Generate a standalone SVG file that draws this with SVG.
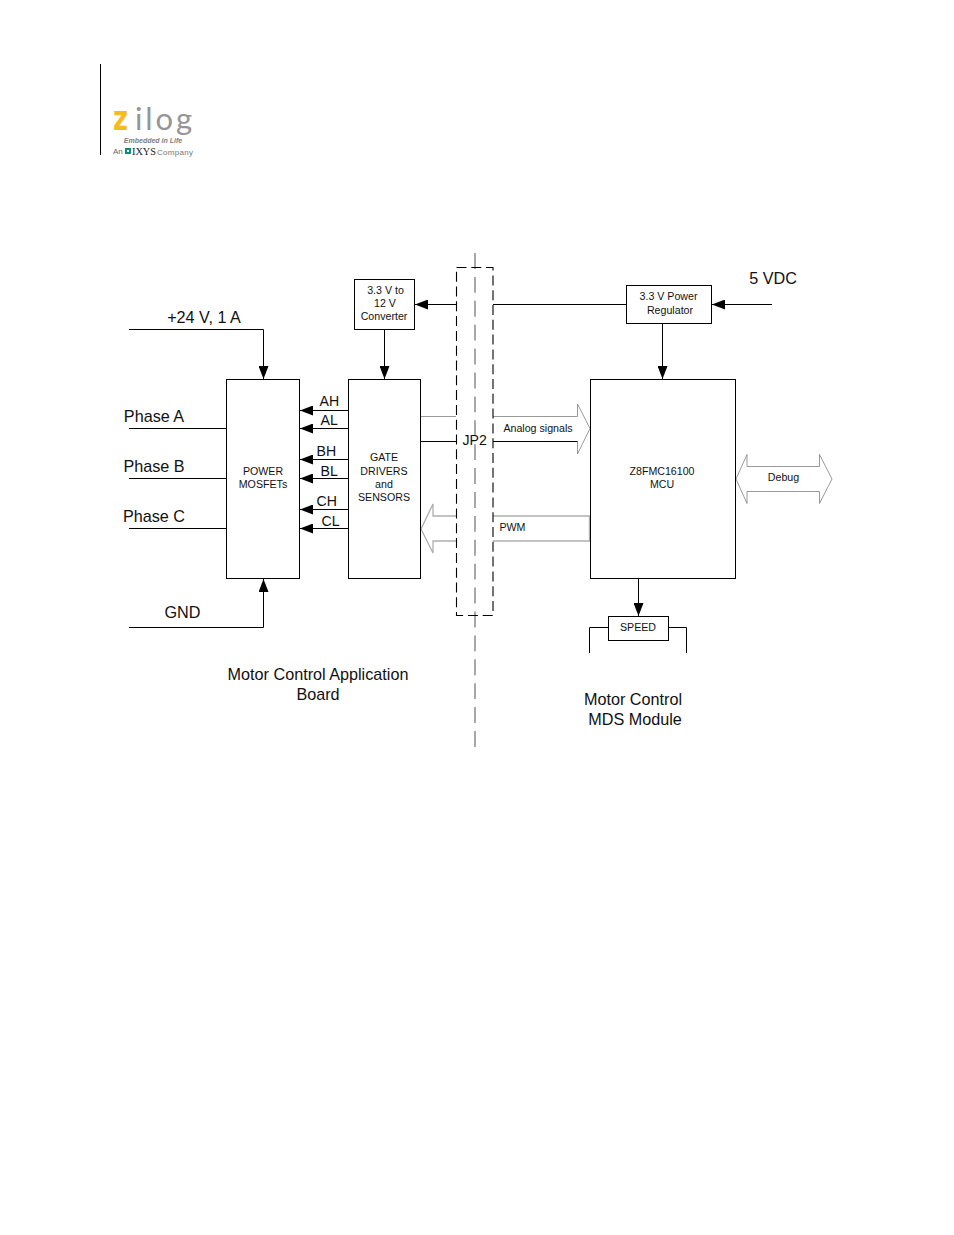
<svg xmlns="http://www.w3.org/2000/svg" width="954" height="1235" viewBox="0 0 954 1235">
<style>
text{font-family:"Liberation Sans",Arial,sans-serif;fill:#111}
.s{font-size:10.65px;text-anchor:middle}
.m{font-size:14.1px}
.l{font-size:16.2px;text-anchor:middle}
.b{fill:#fff;stroke:#000;stroke-width:1}
.w{fill:none;stroke:#000;stroke-width:1}
.g{fill:none;stroke:#aeaeae;stroke-width:1.3}
.t{fill:none;stroke:#808080;stroke-width:.8}
</style>
<defs>
<marker id="a" markerUnits="userSpaceOnUse" markerWidth="13" markerHeight="10" refX="13" refY="5" orient="auto"><path d="M0 0L13 5L0 10Z" fill="#000"/></marker>
</defs>
<rect width="954" height="1235" fill="#fff"/>
<g id="logo">
<path d="M100.500 64V155" stroke="#000" fill="none"/>
<text x="113" y="130" style="font-size:34px;font-weight:bold;fill:#f7bb1d;font-family:'DejaVu Sans',sans-serif" textLength="15" lengthAdjust="spacingAndGlyphs">z</text>
<text x="135" y="130" style="font-size:31px;fill:#959595;font-family:Lato,sans-serif" textLength="57" lengthAdjust="spacing">ilog</text>
<text x="153" y="143" style="font-size:7px;font-style:italic;font-weight:bold;fill:#808080;text-anchor:middle">Embedded in Life</text>
<text x="113" y="154" style="font-size:8px;fill:#666">An</text>
<rect x="125" y="148" width="6" height="6" fill="#0f8a80"/>
<path d="M127 150h2v2h-2z" fill="#fff"/>
<text x="132" y="155" style="font-size:10px;font-family:'Liberation Serif',serif;fill:#222" textLength="24" lengthAdjust="spacingAndGlyphs">IXYS</text>
<text x="157" y="155" style="font-size:8px;fill:#777" textLength="36" lengthAdjust="spacing">Company</text>
</g>
<g id="connectors">
<path class="w" d="M129 329.500H263.500V379" marker-end="url(#a)"/>
<path class="w" d="M129 627.500H263.500V579" marker-end="url(#a)"/>
<path class="w" d="M129 428.500H226M129 478.500H226M129 528.500H226"/>
<path class="w" d="M348 410.500H300" marker-end="url(#a)"/>
<path class="w" d="M348 428.500H300" marker-end="url(#a)"/>
<path class="w" d="M348 459.500H300" marker-end="url(#a)"/>
<path class="w" d="M348 478.500H300" marker-end="url(#a)"/>
<path class="w" d="M348 509.500H300" marker-end="url(#a)"/>
<path class="w" d="M348 528.500H300" marker-end="url(#a)"/>
<path class="w" d="M384.500 329V379" marker-end="url(#a)"/>
<path class="w" d="M456 304.500H415" marker-end="url(#a)"/>
<path class="w" d="M493 304.500H626"/>
<path class="w" d="M772 304.500H712" marker-end="url(#a)"/>
<path class="w" d="M662.500 323V379" marker-end="url(#a)"/>
<path class="w" d="M638.500 578V616" marker-end="url(#a)"/>
<path class="w" d="M608 627.500H589.500V653M668 627.500H686.500V653"/>
<path class="t" d="M421 416.500H456"/>
<path class="w" d="M421 441.500H456"/>
<path class="t" d="M493 416.500H577.500V404L590 428.500L577.500 454V441.500"/>
<path class="w" d="M493 441.500H577.500"/>
<path class="g" d="M456 516H433V504L421 529L433 553V541H456"/>
<path class="g" d="M493 516H589.500V541H493"/>
<path class="t" d="M736 479L747 454.500V466.500H819.500V454.500L832 479L819.500 503.500V491.500H747V503.500Z"/>
<path d="M475 253V747" fill="none" stroke="#a8a8a8" stroke-width="2" stroke-dasharray="15.900 8"/>
<rect x="456.500" y="267.500" width="36.500" height="348" fill="none" stroke="#000" stroke-width="1.100" stroke-dasharray="10 4.800"/>
</g>
<g id="power"><rect class="b" x="226.500" y="379.500" width="73" height="199"/><text class="s" x="263" y="475">POWER</text><text class="s" x="263" y="488">MOSFETs</text></g>
<g id="gate"><rect class="b" x="348.500" y="379.500" width="72" height="199"/><text class="s" x="384" y="461">GATE</text><text class="s" x="384" y="475">DRIVERS</text><text class="s" x="384" y="488">and</text><text class="s" x="384" y="501">SENSORS</text></g>
<g id="converter"><rect class="b" x="354.500" y="279.500" width="60" height="50"/><text class="s" x="385.500" y="294">3.3 V to</text><text class="s" x="385" y="307">12 V</text><text class="s" x="384" y="320">Converter</text></g>
<g id="regulator"><rect class="b" x="626.500" y="285.500" width="85" height="38"/><text class="s" x="668.500" y="300">3.3 V Power</text><text class="s" x="670" y="314">Regulator</text></g>
<g id="mcu"><rect class="b" x="590.500" y="379.500" width="145" height="199"/><text class="s" x="662" y="475">Z8FMC16100</text><text class="s" x="662" y="488">MCU</text></g>
<g id="speed"><rect class="b" x="608.500" y="616.500" width="60" height="24"/><text class="s" x="638" y="631">SPEED</text></g>
<g id="labels">
<text class="m" x="462.500" y="445">JP2</text>
<text class="s" x="538" y="432">Analog signals</text>
<text class="s" x="512.500" y="531">PWM</text>
<text class="s" x="783.500" y="481">Debug</text>
<text class="m" x="319.500" y="406">AH</text><text class="m" x="320.500" y="425">AL</text>
<text class="m" x="316.500" y="456">BH</text><text class="m" x="320.500" y="476">BL</text>
<text class="m" x="316.500" y="506">CH</text><text class="m" x="321.500" y="526">CL</text>
<text class="l" x="204" y="323">+24 V, 1 A</text>
<text class="l" x="154" y="422">Phase A</text>
<text class="l" x="154" y="472">Phase B</text>
<text class="l" x="154" y="522">Phase C</text>
<text class="l" x="182.500" y="618">GND</text>
<text class="l" x="773" y="284">5 VDC</text>
<text class="l" x="318" y="680">Motor Control Application</text>
<text class="l" x="318" y="700">Board</text>
<text class="l" x="633" y="705">Motor Control</text>
<text class="l" x="635" y="725">MDS Module</text>
</g>
</svg>
